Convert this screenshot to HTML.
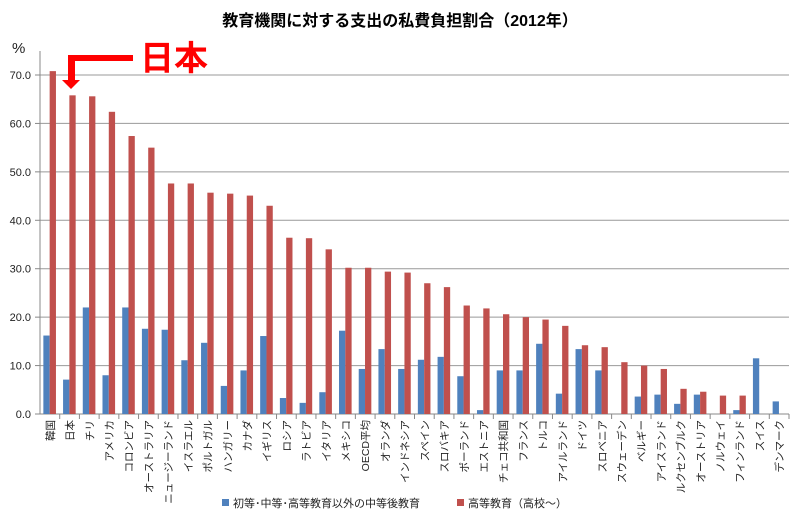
<!DOCTYPE html>
<html><head><meta charset="utf-8"><style>
body{margin:0;background:#fff;width:800px;height:519px;overflow:hidden;font-family:"Liberation Sans","Noto Sans CJK JP",sans-serif}
svg{display:block}
</style></head><body>
<svg id="chart" width="800" height="519">
<text x="400" y="26" text-anchor="middle" font-size="16" font-weight="bold" font-family="Liberation Sans, Noto Sans CJK JP, sans-serif">教育機関に対する支出の私費負担割合（2012年）</text>
<text x="12" y="53" font-size="15" fill="#222">%</text>
<g id="grid"></g><g id="bars"></g><g id="labels"></g>
<g>
<path d="M133 55 H68 V80 H62 L71 89 L80 80 H75 V61 H133 Z" fill="#f00"/>
<text x="140" y="70" font-size="34" font-weight="bold" fill="#f00" font-family="Liberation Sans, Noto Sans CJK JP, sans-serif">日本</text>
</g>
<g>
<rect x="222" y="499" width="7" height="7" fill="#4f81bd"/>
<text x="233" y="507" font-size="11" fill="#222">初等･中等･高等教育以外の中等後教育</text>
<rect x="457" y="499" width="7" height="7" fill="#c0504d"/>
<text x="468" y="507" font-size="11" fill="#222">高等教育（高校～）</text>
</g>
</svg>
<script>
const categories=["韓国","日本","チリ","アメリカ","コロンビア","オーストラリア","ニュージーランド","イスラエル","ポルトガル","ハンガリー","カナダ","イギリス","ロシア","ラトビア","イタリア","メキシコ","OECD平均","オランダ","インドネシア","スペイン","スロバキア","ポーランド","エストニア","チェコ共和国","フランス","トルコ","アイルランド","ドイツ","スロベニア","スウェーデン","ベルギー","アイスランド","ルクセンブルク","オーストリア","ノルウェイ","フィンランド","スイス","デンマーク"];
const secondaryValues=[16.2,7.1,22.0,8.0,22.0,17.6,17.4,11.1,14.7,5.8,9.0,16.1,3.3,2.3,4.5,17.2,9.3,13.4,9.3,11.2,11.8,7.8,0.8,9.0,9.0,14.5,4.2,13.4,9.0,0,3.6,4.0,2.1,4.0,0,0.8,11.5,2.6];
const tertiaryValues=[70.8,65.8,65.6,62.4,57.4,55.0,47.6,47.6,45.7,45.5,45.1,43.0,36.4,36.3,34.0,30.2,30.2,29.4,29.2,27.0,26.2,22.4,21.8,20.6,20.0,19.5,18.2,14.2,13.8,10.7,10.0,9.3,5.2,4.6,3.8,3.8,0,0];
const yTicks=[0,10,20,30,40,50,60,70];
const NS="http://www.w3.org/2000/svg";
const x0=40,x1=789,yZero=414,yTop=75,yMax=70;
const step=(x1-x0)/categories.length;
const yScale=v=>yZero-(v/yMax)*(yZero-yTop);
const xCenter=i=>x0+step*(i+0.5);
function mk(tag,attrs,parent){const e=document.createElementNS(NS,tag);for(const k in attrs)e.setAttribute(k,attrs[k]);parent.appendChild(e);return e;}
const grid=document.getElementById('grid'),bars=document.getElementById('bars'),labels=document.getElementById('labels');
yTicks.forEach(t=>{const y=yScale(t);
 if(t>0){const l=mk('line',{x1:x0,x2:x1,y1:y,y2:y,stroke:'#999','stroke-width':1},grid);
 
 }
 const tx=mk('text',{x:31,y:y+4,'text-anchor':'end','font-size':11,fill:'#222'},grid);tx.textContent=t.toFixed(1);
 
 
 const tk=mk('line',{x1:35,x2:x0,y1:y,y2:y,stroke:'#888'},grid);
 
 
});
const ya=mk('line',{x1:x0,x2:x0,y1:51,y2:yZero,stroke:'#888'},grid);


const xa=mk('line',{x1:x0,x2:x1,y1:yZero,y2:yZero,stroke:'#888'},grid);


categories.forEach((c,i)=>{const cx=xCenter(i);
 const tk=mk('line',{x1:x0+step*(i+1),x2:x0+step*(i+1),y1:yZero,y2:yZero+5,stroke:'#888'},grid);
 
 
 const b=mk('rect',{x:cx-6.5,y:yScale(secondaryValues[i]),width:6.3,height:yZero-yScale(secondaryValues[i]),fill:'#4f81bd'},bars);
 
 
 const r=mk('rect',{x:cx-0.2,y:yScale(tertiaryValues[i]),width:6.3,height:yZero-yScale(tertiaryValues[i]),fill:'#c0504d'},bars);
 
 
 const t=mk('text',{x:0,y:0,'font-size':10.5,fill:'#222','text-anchor':'end',transform:`translate(${cx+4},${yZero+6}) rotate(-90)`},labels);
 t.textContent=c;
 
 
});
</script>
</body></html>
